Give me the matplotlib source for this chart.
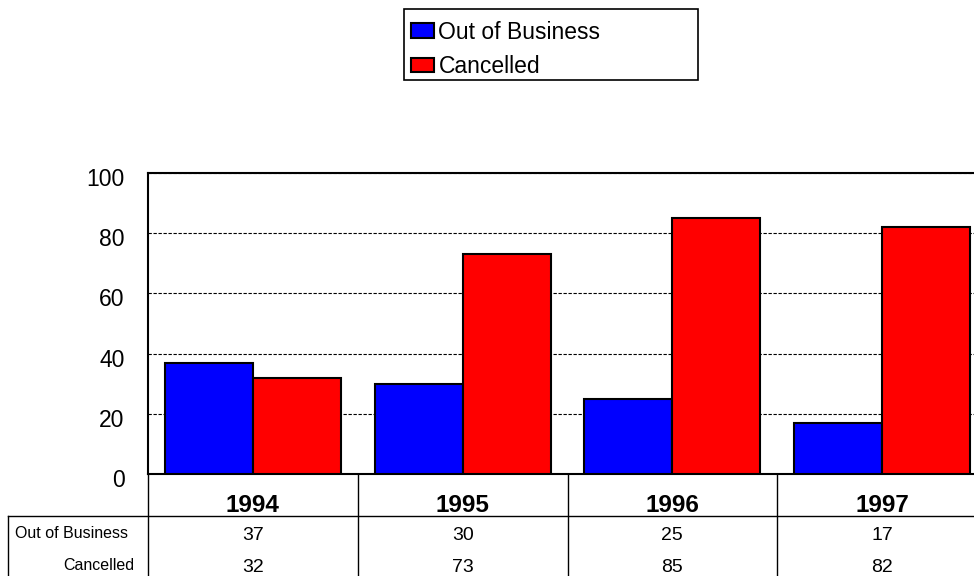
import matplotlib
matplotlib.use("Agg")
import numpy as np
import matplotlib.pyplot as plt
import matplotlib.transforms as mtransforms
from matplotlib.lines import Line2D
from matplotlib.patches import Rectangle

plt.rcParams["font.family"] = ["Liberation Sans", "DejaVu Sans"]

years = ["1994", "1995", "1996", "1997"]
out_of_business = [37, 30, 25, 17]
cancelled = [32, 73, 85, 82]
series_names = ["Out of Business", "Cancelled"]
series_colors = ["#0000FF", "#FF0000"]

W, H = 974, 576
fig = plt.figure(figsize=(W / 100, H / 100), dpi=100)

# axes in pixel terms: left 148, right ~987 (clipped), bottom 474, top 173
ax_left, ax_right, ax_bottom, ax_top = 148, 987, 474, 173
ax = fig.add_axes([ax_left / W, 1 - ax_bottom / H,
                   (ax_right - ax_left) / W, (ax_bottom - ax_top) / H])

x = np.arange(len(years))
bw = 0.42
b1 = ax.bar(x - bw / 2, out_of_business, bw, color=series_colors[0],
            edgecolor="black", linewidth=1.5, zorder=3, label=series_names[0])
b2 = ax.bar(x + bw / 2, cancelled, bw, color=series_colors[1],
            edgecolor="black", linewidth=1.5, zorder=3, label=series_names[1])

ax.set_xlim(-0.5, len(years) - 0.5)
ax.set_ylim(0, 100)
ax.set_yticks([0, 20, 40, 60, 80, 100])
ax.set_xticks([])
ax.yaxis.grid(True, color="black", linestyle=(0, (3, 1.5)), linewidth=0.8)
ax.set_axisbelow(True)
ax.tick_params(axis="y", length=0, pad=17, labelsize=16.5)
for lab in ax.get_yticklabels():
    lab.set_transform(lab.get_transform() +
                      mtransforms.ScaledTranslation(0, -4 / 100, fig.dpi_scale_trans))
for s in ax.spines.values():
    s.set_linewidth(1.5)
ax.spines["right"].set_visible(False)

# data table under the plot (axes-fraction y, data x)
trans = mtransforms.blended_transform_factory(ax.transData, ax.transAxes)
px = (ax_bottom - ax_top)


def yfrac(py):
    return (ax_bottom - py) / px


def xdata(pxx):
    return -0.5 + (pxx - ax_left) / ((ax_right - ax_left) / len(years))


line_kw = dict(color="black", linewidth=1.0, clip_on=False, transform=trans)
for b in np.arange(0.5, len(years) - 0.5, 1.0):
    ax.add_line(Line2D([b, b], [0, yfrac(600)], **line_kw))
ax.add_line(Line2D([-0.5, -0.5], [0, yfrac(600)], **line_kw))
ax.add_line(Line2D([xdata(8), len(years)], [yfrac(516), yfrac(516)], **line_kw))
ax.add_line(Line2D([xdata(8), xdata(8)], [yfrac(516), yfrac(600)], **line_kw))

for i, yr in enumerate(years):
    ax.text(i, yfrac(506), yr, transform=trans, ha="center", va="center",
            fontsize=17.5, fontweight="bold")
    ax.text(i, yfrac(536), str(out_of_business[i]), transform=trans,
            ha="center", va="center", fontsize=14)
    ax.text(i, yfrac(567), str(cancelled[i]), transform=trans,
            ha="center", va="center", fontsize=14)

ax.text(xdata(15), yfrac(534), series_names[0], transform=trans,
        ha="left", va="center", fontsize=11.5)
ax.text(xdata(134), yfrac(566), series_names[1], transform=trans,
        ha="right", va="center", fontsize=11.5)

# legend at the top; frame drawn separately so the rows sit a bit lower
leg = fig.legend(handles=[b1, b2], loc="lower left",
                 bbox_to_anchor=(404 / W, 1 - 85 / H, (698 - 404) / W, (85 - 14) / H),
                 mode="expand", frameon=False,
                 fontsize=16.5, handlelength=1.0, handleheight=0.6,
                 handletextpad=0.2, labelspacing=0.5, borderpad=0.3,
                 borderaxespad=0)
fig.patches.append(Rectangle((404 / W, 1 - 80 / H), (698 - 404) / W, (80 - 9) / H,
                             transform=fig.transFigure, facecolor="none",
                             edgecolor="black", linewidth=1.2))

fig.savefig("out.png", dpi=100)
